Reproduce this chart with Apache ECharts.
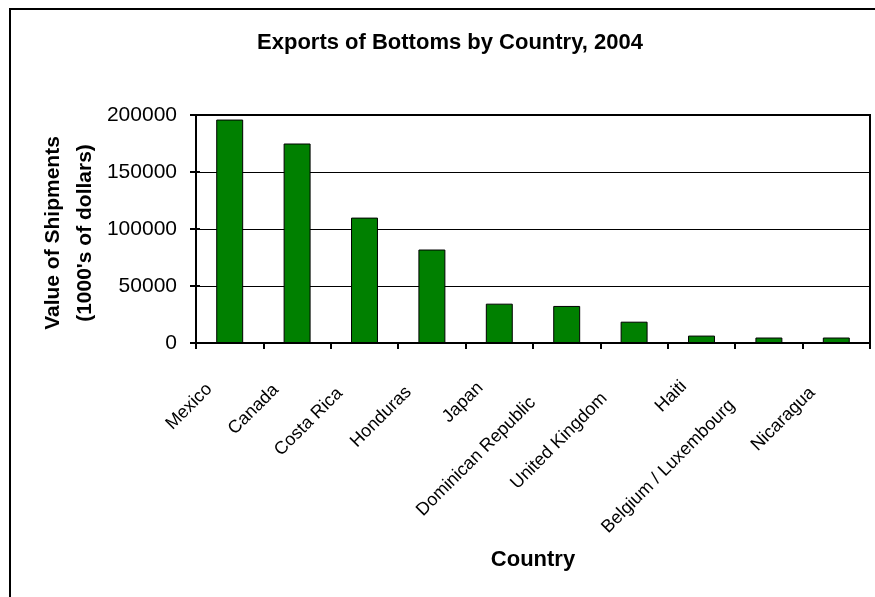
<!DOCTYPE html>
<html>
<head>
<meta charset="utf-8">
<title>Exports of Bottoms by Country, 2004</title>
<script src="https://cdn.jsdelivr.net/npm/echarts@6/dist/echarts.min.js"></script>
<style>
  html, body { margin: 0; padding: 0; background: #ffffff; }
  #chart { width: 875px; height: 597px; }
</style>
</head>
<body>
<div id="chart"></div>
<script>
// Shipment values in thousands of dollars, 2004
const countries = ['Mexico', 'Canada', 'Costa Rica', 'Honduras', 'Japan',
  'Dominican Republic', 'United Kingdom', 'Haiti', 'Belgium / Luxembourg', 'Nicaragua'];
const shipments = [196000, 175000, 110000, 82000, 34500, 32500, 18700, 6500, 4800, 4800];
const yTicks = { min: 0, max: 200000, step: 50000 };

const FONT = '"Liberation Sans", Arial, Helvetica, sans-serif';
const CAT_FONT_SIZE = 18;

// Longer rotated labels sit a little further from their tick
const measureCtx = document.createElement('canvas').getContext('2d');
measureCtx.font = CAT_FONT_SIZE + 'px ' + FONT;
const categoryItems = countries.map(function (name) {
  const w = measureCtx.measureText(name).width;
  return { value: name, textStyle: { padding: [0, Math.round(18 + 0.19 * w), 0, 0] } };
});

const chart = echarts.init(document.getElementById('chart'), null, { renderer: 'canvas' });

const yAxisBase = {
  type: 'value',
  min: yTicks.min,
  max: yTicks.max,
  interval: yTicks.step,
  position: 'left'
};

chart.setOption({
  backgroundColor: '#ffffff',
  animation: false,
  textStyle: { fontFamily: FONT, color: '#000' },
  graphic: [
    {
      type: 'rect',
      shape: { x: 10, y: 9, width: 900, height: 700 },
      style: { fill: 'none', stroke: '#000', lineWidth: 2 },
      silent: true
    },
    {
      type: 'text',
      x: 450, y: 43,
      style: {
        text: 'Exports of Bottoms by Country, 2004',
        font: 'bold 22px ' + FONT,
        fill: '#000',
        textAlign: 'center',
        textVerticalAlign: 'middle'
      },
      silent: true
    }
  ],
  grid: {
    left: 196, top: 115, width: 674, height: 228,
    show: true, borderColor: '#000', borderWidth: 2, backgroundColor: 'transparent'
  },
  xAxis: {
    type: 'category',
    data: categoryItems,
    boundaryGap: true,
    name: 'Country',
    nameLocation: 'middle',
    nameGap: 206,
    nameMoveOverlap: false,
    nameTextStyle: { fontFamily: FONT, fontSize: 22, fontWeight: 'bold', color: '#000' },
    axisLine: { show: true, lineStyle: { color: '#000', width: 2 } },
    axisTick: { show: true, length: 6, lineStyle: { color: '#000', width: 2 } },
    axisLabel: {
      interval: 0,
      rotate: 45,
      margin: 23,
      fontFamily: FONT,
      fontSize: CAT_FONT_SIZE,
      color: '#000'
    }
  },
  yAxis: [
    Object.assign({}, yAxisBase, {
      name: 'Value of Shipments\n(1000\'s of dollars)',
      nameLocation: 'middle',
      nameGap: 95,
      nameMoveOverlap: false,
      nameRotate: 90,
      nameTextStyle: {
        fontFamily: FONT, fontSize: 21, fontWeight: 'bold', color: '#000',
        lineHeight: 32, padding: [0, 8, 0, 0]
      },
      axisLine: { show: true, lineStyle: { color: '#000', width: 2 } },
      axisTick: { show: true, length: 6, lineStyle: { color: '#000', width: 2 } },
      axisLabel: {
        margin: 19, fontFamily: FONT, fontSize: 21, color: '#000',
        formatter: function (v) { return String(v); }
      },
      splitLine: { show: true, lineStyle: { color: '#000', width: 1 } }
    }),
    // inner half of the cross-shaped value ticks
    Object.assign({}, yAxisBase, {
      axisLine: { show: false },
      axisTick: { show: true, inside: true, length: 4, lineStyle: { color: '#000', width: 2 } },
      axisLabel: { show: false },
      splitLine: { show: false }
    })
  ],
  series: [{
    type: 'bar',
    data: shipments,
    barWidth: '40%',
    itemStyle: { color: '#008000', borderColor: '#000', borderWidth: 1 }
  }]
});
</script>
</body>
</html>
